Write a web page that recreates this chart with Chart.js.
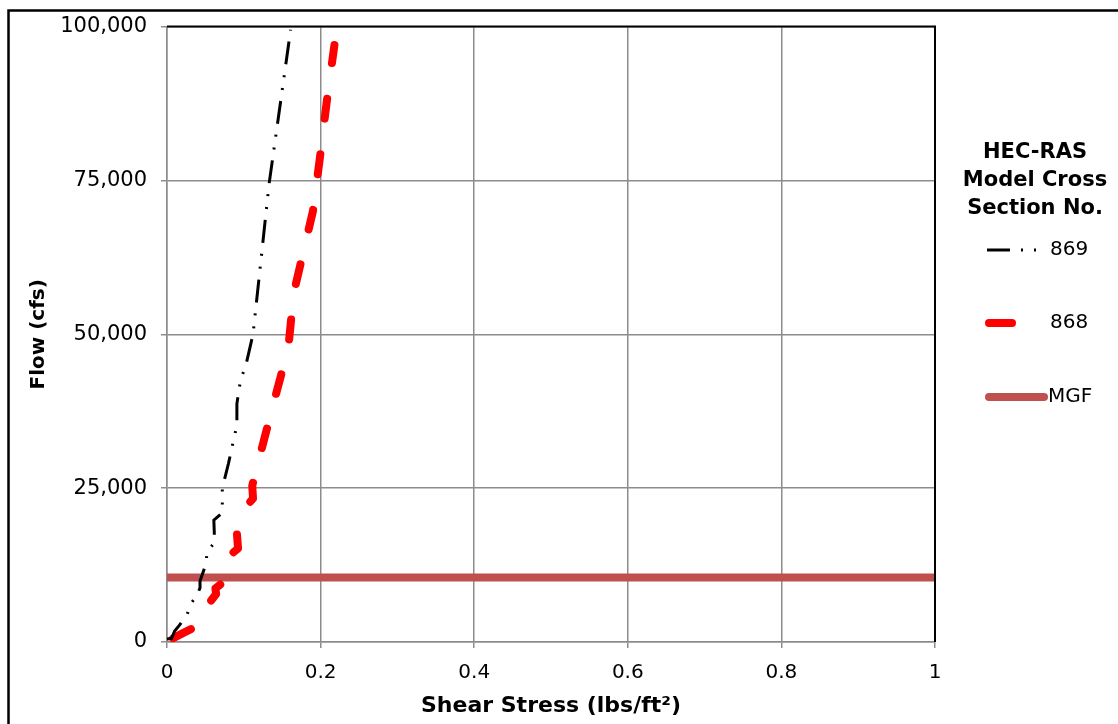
<!DOCTYPE html>
<html>
<head>
<meta charset="utf-8">
<script src="https://cdn.jsdelivr.net/npm/chart.js@4/dist/chart.umd.min.js"></script>
<style>
  html, body { margin: 0; padding: 0; background: #fff; }
  #wrap { width: 1118px; height: 724px; position: relative; }
</style>
</head>
<body>
<div id="wrap"><canvas id="shearChart" width="1118" height="724"></canvas></div>
<script>
// Cross section 869
const stress869 = [0.000, 0.006, 0.010, 0.016, 0.026, 0.031, 0.039, 0.043, 0.043, 0.051, 0.052, 0.062, 0.061, 0.072, 0.072, 0.080, 0.087, 0.091, 0.091, 0.096, 0.102, 0.112, 0.133, 0.161];
const flow869 = [500, 600, 1800, 2700, 4400, 6200, 7600, 8800, 9900, 12800, 14600, 16200, 19800, 21000, 25000, 29000, 33000, 35200, 38700, 42800, 44600, 50000, 74500, 99500];

// Cross section 868
const stress868 = [0.008, 0.020, 0.039, 0.056, 0.064, 0.063, 0.072, 0.082, 0.0925, 0.091, 0.102, 0.112, 0.111, 0.121, 0.139, 0.158, 0.165, 0.190, 0.199, 0.208, 0.218];
const flow868 = [600, 1400, 2600, 6500, 7800, 8700, 9600, 14100, 15200, 17700, 21900, 23300, 25400, 30300, 38900, 47800, 56700, 70000, 78600, 87800, 97000];

// MGF reference flow
const stressMGF = [0, 1];
const flowMGF = [10500, 10500];

const xTicks = [0, 0.2, 0.4, 0.6, 0.8, 1];
const yTicks = [0, 25000, 50000, 75000, 100000];

const legendTitle = ['HEC-RAS', 'Model Cross', 'Section No.'];

const FONT = 'Verdana, "DejaVu Sans", sans-serif';
const GRID = '#8c8c8c';

const toPoints = (xs, ys) => xs.map((x, i) => ({ x: x, y: ys[i] }));

// outer frame, black plot edges and the side legend
const framePlugin = {
    id: 'frame',
    afterDraw(chart) {
        const ctx = chart.ctx;
        const area = chart.chartArea;
        ctx.save();
        ctx.strokeStyle = '#000';
        ctx.lineWidth = 2.5;
        ctx.beginPath();
        ctx.moveTo(8.5, 740);
        ctx.lineTo(8.5, 10.5);
        ctx.lineTo(1130, 10.5);
        ctx.stroke();

        ctx.lineWidth = 2;
        ctx.beginPath();
        ctx.moveTo(area.left, area.top);
        ctx.lineTo(area.right, area.top);
        ctx.lineTo(area.right, area.bottom);
        ctx.stroke();

        // legend
        ctx.fillStyle = '#000';
        ctx.textAlign = 'center';
        ctx.textBaseline = 'middle';
        ctx.font = 'bold 21px ' + FONT;
        legendTitle.forEach((t, i) => ctx.fillText(t, 1035, 153 + i * 28));

        const rows = [250, 323, 397];
        chart.data.datasets.forEach((ds, i) => {
            const y = rows[i];
            ctx.save();
            ctx.strokeStyle = ds.borderColor;
            ctx.lineWidth = ds.borderWidth;
            ctx.lineCap = ds.borderCapStyle || 'butt';
            ctx.setLineDash(i === 0 ? ds.borderDash : []);
            ctx.beginPath();
            if (i === 0) { ctx.moveTo(987, y); ctx.lineTo(1037, y); }
            else if (i === 1) { ctx.moveTo(989, y); ctx.lineTo(1012, y); }
            else { ctx.moveTo(989, y); ctx.lineTo(1044, y); }
            ctx.stroke();
            ctx.restore();
            ctx.font = '20px ' + FONT;
            ctx.textAlign = 'left';
            ctx.fillText(ds.label, i === 2 ? 1048 : 1050, y);
        });
        ctx.restore();
    }
};

new Chart(document.getElementById('shearChart'), {
    type: 'scatter',
    data: {
        datasets: [
            {
                label: '869',
                data: toPoints(stress869, flow869),
                showLine: true,
                borderColor: '#000',
                borderWidth: 3,
                borderDash: [23, 11, 2, 11, 2, 11],
                pointRadius: 0,
                tension: 0
            },
            {
                label: '868',
                data: toPoints(stress868, flow868),
                showLine: true,
                borderColor: '#ff0000',
                borderWidth: 8,
                borderDash: [20, 36],
                borderCapStyle: 'round',
                borderJoinStyle: 'round',
                pointRadius: 0,
                tension: 0
            },
            {
                label: 'MGF',
                data: toPoints(stressMGF, flowMGF),
                showLine: true,
                borderColor: '#c0504d',
                borderWidth: 8,
                borderCapStyle: 'round',
                pointRadius: 0
            }
        ]
    },
    options: {
        responsive: false,
        animation: false,
        layout: { padding: { left: 0, top: 25, right: 183, bottom: 0 } },
        plugins: { legend: { display: false }, tooltip: { enabled: false } },
        scales: {
            x: {
                type: 'linear',
                min: 0, max: 1,
                afterBuildTicks: (s) => { s.ticks = xTicks.map(v => ({ value: v })); },
                afterFit: (s) => { s.height = 82; },
                ticks: { color: '#000', font: { family: FONT, size: 20 }, padding: 13, maxRotation: 0, callback: (v) => String(v) },
                grid: { color: GRID, lineWidth: 1.5, tickLength: 6 },
                border: { color: GRID, width: 1.5 },
                title: { display: true, text: 'Shear Stress (lbs/ft²)', color: '#000', font: { family: FONT, size: 22, weight: 'bold' }, padding: { top: 0, bottom: 5 } }
            },
            y: {
                type: 'linear',
                min: 0, max: 100000,
                afterBuildTicks: (s) => { s.ticks = yTicks.map(v => ({ value: v })); },
                afterFit: (s) => { s.width = 167; },
                ticks: { color: '#000', font: { family: FONT, size: 21 }, padding: 14 },
                grid: { color: GRID, lineWidth: 1.5, tickLength: 6 },
                border: { color: GRID, width: 1.5 },
                title: { display: true, text: 'Flow (cfs)', color: '#000', font: { family: FONT, size: 20, weight: 'bold' }, padding: { top: 27, bottom: 0 } }
            }
        }
    },
    plugins: [framePlugin]
});
</script>
</body>
</html>
